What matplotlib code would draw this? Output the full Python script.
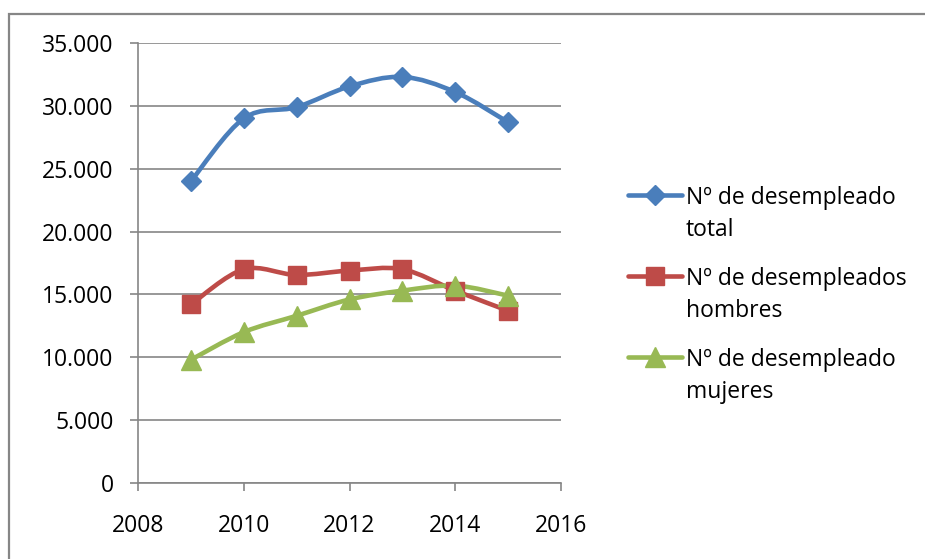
import numpy as np
import matplotlib
matplotlib.use("Agg")
import matplotlib.pyplot as plt
from matplotlib.path import Path
from matplotlib.patches import PathPatch, Rectangle
from matplotlib.lines import Line2D

years = [2009, 2010, 2011, 2012, 2013, 2014, 2015]
total = [24000, 29000, 29900, 31550, 32300, 31100, 28700]
hombres = [14200, 17000, 16550, 16900, 17000, 15300, 13700]
mujeres = [9800, 12000, 13300, 14600, 15300, 15700, 14900]

labels = ["Nº de desempleado\ntotal", "Nº de desempleados\nhombres", "Nº de desempleado\nmujeres"]
colors = ["#4A7EBB", "#BE4B48", "#98B954"]
markers = ["D", "s", "^"]
msizes = [10.3, 13.3, 14]

GRAY = "#868686"
FS = 16.5
plt.rcParams["font.family"] = ["Open Sans", "DejaVu Sans"]


def smooth_path(x, y):
    """Excel-like smoothed line: Catmull-Rom segments as cubic Beziers."""
    p = np.column_stack([x, y]).astype(float)
    pts = np.vstack([p[:1], p, p[-1:]])
    verts, codes = [tuple(p[0])], [Path.MOVETO]
    for i in range(1, len(pts) - 2):
        p0, p1, p2, p3 = pts[i - 1], pts[i], pts[i + 1], pts[i + 2]
        c1 = p1 + (p2 - p0) / 6.0
        c2 = p2 - (p3 - p1) / 6.0
        verts += [tuple(c1), tuple(c2), tuple(p2)]
        codes += [Path.CURVE4] * 3
    return Path(verts, codes)


W, H = 925, 559
fig = plt.figure(figsize=(W / 100, H / 100), dpi=100)
ax = fig.add_axes([138 / W, 1 - 483 / H, (561 - 138) / W, (483 - 43) / H])

for vals, c, m, ms in zip([total, hombres, mujeres], colors, markers, msizes):
    ax.add_patch(PathPatch(smooth_path(years, vals), fill=False, edgecolor=c,
                           lw=3.3, capstyle="round", joinstyle="round", zorder=3))
    ax.plot(years, vals, ls="none", marker=m, ms=ms, color=c, zorder=4)

ax.set_xlim(2008, 2016)
ax.set_ylim(0, 35000)
ax.set_xticks(range(2008, 2017, 2))
ax.set_yticks(range(0, 35001, 5000))
ax.set_yticklabels([f"{v:,}".replace(",", ".") for v in range(0, 35001, 5000)])
ax.yaxis.grid(True, color=GRAY, lw=1.2)
ax.set_axisbelow(True)
for s in ("top", "right"):
    ax.spines[s].set_visible(False)
for s in ("left", "bottom"):
    ax.spines[s].set_color(GRAY)
    ax.spines[s].set_linewidth(1.2)
ax.tick_params(axis="both", colors=GRAY, width=1.2, length=6, labelsize=FS,
               labelcolor="black")
ax.tick_params(axis="y", pad=11.5)
ax.tick_params(axis="x", pad=16)

# legend drawn by hand so the marker sits on the first text line, as in Excel
for i, (lab, c, m, ms) in enumerate(zip(labels, colors, markers, msizes)):
    y = 1 - (195 + i * 81) / H
    fig.add_artist(Line2D([628 / W, 682 / W], [y, y], color=c, lw=3.3,
                          solid_capstyle="round"))
    fig.add_artist(Line2D([655 / W], [y], marker=m, ms=ms, color=c, ls="none"))
    for j, line in enumerate(lab.split("\n")):
        fig.text(686 / W, y - j * 32 / H, line, fontsize=FS, ha="left",
                 va="center_baseline")

fig.add_artist(Rectangle((9 / W, -0.5), 2, 1.5 - 14 / H, transform=fig.transFigure,
                         fill=False, edgecolor=GRAY, lw=1.6))

fig.savefig("out.png", dpi=100)
